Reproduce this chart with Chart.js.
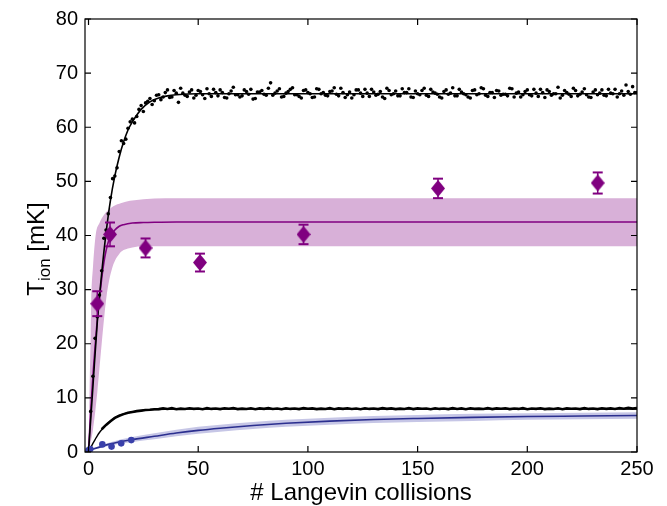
<!DOCTYPE html>
<html>
<head>
<meta charset="utf-8">
<script src="https://cdn.jsdelivr.net/npm/chart.js@4.4.1/dist/chart.umd.min.js"></script>
<style>
  html,body{margin:0;padding:0;background:#fff;}
</style>
</head>
<body>
<canvas id="c" width="667" height="506"></canvas>
<script>
// ---- axes ----
const xTicks = [0, 50, 100, 150, 200, 250];
const yTicks = [0, 10, 20, 30, 40, 50, 60, 70, 80];
const xTitle = '# Langevin collisions';

// ---- upper black: simulated ion temperature (dots) ----
// odd collisions, from x=1
const hotDotsA = [
  7.5, 21, 29, 39.5, 44, 50.5, 52.5, 57.5, 57.8, 61, 60.8, 63.3, 62.9, 64.8, 64.2, 65.9, 65.1, 66.4, 65.5, 66.8,
  64.6, 66.3, 65.7, 66.9, 65.9, 66.6, 65.3, 66.2, 67.0, 65.8, 66.4, 65.4, 66.7, 66.0, 65.6, 66.9, 66.1, 65.2, 66.5, 66.8,
  65.9, 68.2, 66.3, 67.1, 65.7, 66.6, 67.3, 66.0, 65.4, 66.9, 66.2, 65.6, 67.0, 66.4, 65.8, 66.7, 66.1, 67.2, 65.5, 66.5,
  66.0, 66.9, 65.7, 66.3, 67.0, 65.9, 66.6, 65.3, 66.8, 66.2, 65.8, 67.1, 66.4, 65.6, 66.7, 66.0, 67.2, 65.7, 66.5, 66.1,
  65.4, 66.9, 66.3, 65.8, 67.0, 66.2, 65.6, 66.8, 66.0, 67.3, 65.9, 66.4, 65.5, 66.7, 66.1, 65.8, 67.1, 66.3, 65.6, 66.6,
  66.0, 67.0, 65.7, 66.4, 66.9, 65.9, 66.2, 65.4, 66.8, 66.1, 67.2, 65.8, 66.5, 66.0, 65.5, 66.9, 66.3, 65.9, 67.0, 66.2,
  65.6, 66.7, 67.8, 66.1, 66.4
];
// even collisions, from x=2
const hotDotsB = [
  14, 25, 33.5, 41, 47, 51, 55.5, 57, 59.8, 61.5, 62, 64, 64.5, 65.3, 64.9, 66, 65.6,
  66.9, 65.6, 66.3, 67.2, 65.9, 66.5, 65.4, 66.8, 66.0, 67.1, 65.7, 66.4, 66.9, 65.5, 66.2, 67.4, 66.0, 65.8, 66.6, 67.0,
  65.3, 66.5, 66.1, 67.2, 65.9, 66.7, 65.6, 66.3, 67.0, 66.0, 65.7, 66.8, 66.4, 65.5, 67.1, 66.2, 65.9, 66.6, 67.3, 65.8,
  66.4, 66.0, 65.4, 66.9, 66.3, 67.0, 65.7, 66.5, 66.1, 65.6, 67.2, 66.0, 66.7, 65.8, 66.4, 67.1, 65.5, 66.2, 66.8, 65.9,
  67.0, 66.3, 65.6, 66.6, 66.1, 67.3, 65.8, 66.5, 66.0, 65.4, 66.9, 66.2, 67.1, 65.7, 66.4, 66.8, 65.9, 66.1, 67.2, 65.6,
  66.5, 66.0, 66.9, 65.8, 66.3, 67.0, 65.5, 66.6, 66.2, 67.4, 65.9, 66.4, 65.7, 66.8, 66.1, 67.1, 65.6, 66.5, 66.0, 66.9,
  65.8, 66.3, 67.0, 66.2, 65.9, 66.6, 67.5, 66.4
];
const hotFitX = [0, 2, 4, 6, 8, 10, 12, 14, 16, 18, 20, 24, 28, 32, 36, 40, 50, 250];
const hotFitY = [0, 12, 24, 33, 40.5, 46.5, 51, 54.5, 57.3, 59.5, 61, 63.3, 64.7, 65.4, 65.8, 66.0, 66.2, 66.2];

// ---- lower black: simulated (noisy trace every 2 collisions from x=6) ----
const coldNoise = [
  4.2, 5.0, 5.7, 6.3, 6.7, 7.0, 7.25, 7.4, 7.55, 7.65, 7.75, 7.8, 7.9,
  7.92, 8.06, 7.95, 8.1, 7.9, 8.02, 7.94, 8.08, 7.97, 8.04, 7.9, 8.1, 7.96, 8.03, 7.92, 8.07, 7.98, 8.12, 7.93, 8.02,
  7.95, 8.09, 7.9, 8.05, 7.97, 8.1, 7.94, 8.03, 7.91, 8.08, 7.96, 8.04, 7.92, 8.11, 7.98, 8.06, 7.93, 8.02, 7.95, 8.1,
  7.9, 8.05, 7.97, 8.08, 7.94, 8.03, 7.91, 8.09, 7.96, 8.04, 7.92, 8.1, 7.97, 8.05, 7.93, 8.02, 7.95, 8.12, 7.92, 8.06,
  7.98, 8.03, 7.9, 8.08, 7.96, 8.04, 7.93, 8.1, 7.95, 8.05, 7.91, 8.07, 7.97, 8.02, 7.94, 8.11, 7.92, 8.05, 7.98, 8.08,
  7.93, 8.03, 7.96, 8.1, 7.91, 8.04, 7.97, 8.07, 7.92, 8.02, 7.95, 8.09, 7.9, 8.06, 7.98, 8.03, 7.93, 8.1, 7.96, 8.04,
  7.92, 8.08, 7.97, 8.05, 7.94, 8.12, 8.0, 8.15, 8.02, 8.1
];
const coldFitX = [0, 1, 2, 3, 4, 5, 6, 8, 10, 12, 15, 20, 25, 30, 40, 250];
const coldFitY = [0, 0.8, 1.6, 2.3, 3.0, 3.6, 4.1, 5.0, 5.7, 6.3, 6.9, 7.4, 7.7, 7.85, 7.95, 7.95];

// ---- purple: measured ion temperature with error bars, fit and band ----
const ionX = [4.0, 9.8, 26, 50.8, 98, 159.3, 232.1];
const ionY = [27.4, 40.2, 37.7, 35.0, 40.2, 48.7, 49.7];
const ionErr = [2.3, 2.2, 1.75, 1.65, 1.8, 1.8, 1.95];
const ionFitX = [0, 1, 2, 3, 4, 5, 6, 7, 8, 9, 10, 12, 14, 16, 20, 25, 30, 40, 250];
const ionFitY = [0, 7.5, 14, 19.5, 24.5, 28.5, 32, 35, 37.2, 38.8, 39.8, 41.0, 41.7, 42.0, 42.3, 42.4, 42.45, 42.5, 42.5];
const ionHighX = [0, 0.5, 1, 1.25, 2, 3.3, 5, 6.7, 9, 11.3, 15, 18.9, 25, 35, 250];
const ionHighY = [0, 12, 22, 28, 34, 40.2, 42.3, 43.6, 44.7, 45.4, 46.0, 46.4, 46.7, 46.9, 46.9];
const ionLowX = [0, 2, 4, 6, 7.3, 8.3, 9.3, 10.8, 12, 14, 16, 20, 25, 30, 250];
const ionLowY = [0, 4, 11, 20, 25.5, 29, 31.5, 34, 35.3, 36.6, 37.3, 37.8, 38.0, 38.0, 38.0];

// ---- blue: measured (dots), fit and band ----
const blueX = [0, 0.8, 6.3, 10.5, 14.9, 19.5];
const blueY = [0.3, 0.55, 1.4, 1.0, 1.6, 2.2];
const blueFitX = [0, 5, 10, 20, 30, 40, 50, 60, 75, 90, 110, 130, 150, 175, 200, 225, 250];
const blueFitY = [0.3, 0.9, 1.5, 2.3, 2.9, 3.5, 4.0, 4.4, 4.9, 5.3, 5.7, 6.0, 6.2, 6.4, 6.55, 6.65, 6.75];
const blueHighY = [0.35, 1.1, 1.8, 2.75, 3.45, 4.1, 4.65, 5.05, 5.55, 5.95, 6.35, 6.65, 6.85, 7.05, 7.15, 7.25, 7.35];
const blueLowY = [0.25, 0.7, 1.2, 1.85, 2.35, 2.9, 3.35, 3.75, 4.25, 4.65, 5.05, 5.35, 5.55, 5.75, 5.95, 6.05, 6.15];

const PURPLE = '#800080';
const pts = (xs, ys) => xs.map((x, i) => ({x, y: ys[i]}));
const stepPts = (start, step, ys) => ys.map((y, i) => ({x: start + i*step, y}));

// error bars: low, high, gap
const errPts = [];
ionX.forEach((x, i) => { errPts.push({x, y: ionY[i]-ionErr[i]}, {x, y: ionY[i]+ionErr[i]}, {x, y: null}); });

// elongated diamond marker
const diamond = document.createElement('canvas');
diamond.width = 14; diamond.height = 17;
(function(){
  const g = diamond.getContext('2d');
  g.fillStyle = PURPLE;
  g.beginPath(); g.moveTo(7,0); g.lineTo(14,8.5); g.lineTo(7,17); g.lineTo(0,8.5); g.closePath(); g.fill();
})();

const frame = {
  id: 'frame',
  afterDraw(chart){
    const {ctx, chartArea: a, scales: {x, y}} = chart;
    ctx.save();
    ctx.strokeStyle = '#000'; ctx.lineWidth = 1.2;
    ctx.strokeRect(a.left, a.top, a.right - a.left, a.bottom - a.top);
    ctx.beginPath();
    xTicks.forEach(v => { const p = x.getPixelForValue(v);
      ctx.moveTo(p, a.bottom); ctx.lineTo(p, a.bottom - 6); ctx.moveTo(p, a.top); ctx.lineTo(p, a.top + 6); });
    yTicks.forEach(v => { const p = y.getPixelForValue(v);
      ctx.moveTo(a.left, p); ctx.lineTo(a.left + 6, p); ctx.moveTo(a.right, p); ctx.lineTo(a.right - 6, p); });
    ctx.stroke();

    ctx.fillStyle = '#000';
    const big = '24px "Liberation Sans", Arial, sans-serif', small = '17px "Liberation Sans", Arial, sans-serif';
    ctx.font = big; ctx.textAlign = 'center'; ctx.textBaseline = 'alphabetic';
    ctx.fillText(xTitle, (a.left + a.right)/2, 500);

    // y title: T_ion [mK]
    ctx.textAlign = 'left';
    ctx.font = big; const wT = ctx.measureText('T').width, wU = ctx.measureText(' [mK]').width;
    ctx.font = small; const wS = ctx.measureText('ion').width;
    const w = wT + wS + wU;
    ctx.translate(44, 249); ctx.rotate(-Math.PI/2);
    let cx = -w/2;
    ctx.font = big; ctx.fillText('T', cx, 0); cx += wT;
    ctx.font = small; ctx.fillText('ion', cx, 6); cx += wS;
    ctx.font = big; ctx.fillText(' [mK]', cx, 0);
    ctx.restore();
  }
};

Chart.defaults.font.family = '"Liberation Sans", Arial, sans-serif';
Chart.defaults.color = '#000';

const smooth = {pointRadius: 0, cubicInterpolationMode: 'monotone'};

new Chart(document.getElementById('c'), {
  type: 'line',
  data: {
    datasets: [
      {data: pts(ionLowX, ionLowY), borderWidth: 0, fill: false, order: 20, ...smooth},
      {data: pts(ionHighX, ionHighY), borderWidth: 0, fill: '-1', backgroundColor: '#d8b0d8', order: 19, ...smooth},
      {data: pts(blueFitX, blueLowY), borderWidth: 0, fill: false, order: 18, ...smooth},
      {data: pts(blueFitX, blueHighY), borderWidth: 0, fill: '-1', backgroundColor: '#c6c6e6', order: 17, ...smooth},
      {data: pts(ionFitX, ionFitY), borderColor: PURPLE, borderWidth: 1.6, order: 8, ...smooth},
      {data: pts(blueFitX, blueFitY), borderColor: '#2b2f8f', borderWidth: 1.6, order: 8, ...smooth},
      {data: pts(coldFitX, coldFitY), borderColor: '#000', borderWidth: 1.4, order: 7, ...smooth},
      {data: stepPts(6, 2, coldNoise), borderColor: '#000', borderWidth: 2.6, pointRadius: 0, order: 6},
      {data: pts(hotFitX, hotFitY), borderColor: '#000', borderWidth: 1.6, order: 5, ...smooth},
      {data: stepPts(1, 2, hotDotsA), showLine: false, pointRadius: 1.8,
       pointBackgroundColor: '#000', pointBorderWidth: 0, order: 4},
      {data: stepPts(2, 2, hotDotsB), showLine: false, pointRadius: 1.8,
       pointBackgroundColor: '#000', pointBorderWidth: 0, order: 4},
      {data: pts(blueX, blueY), showLine: false, pointRadius: 3.3,
       pointBackgroundColor: '#3a40aa', pointBorderWidth: 0, order: 3},
      {data: errPts, borderColor: PURPLE, borderWidth: 1.5, spanGaps: false,
       pointStyle: 'line', pointRadius: 5, pointBorderWidth: 2, pointBorderColor: PURPLE, order: 2},
      {data: pts(ionX, ionY), showLine: false, pointStyle: diamond, order: 1}
    ]
  },
  options: {
    responsive: false,
    animation: false,
    layout: {padding: {top: 17, right: 30, left: 0, bottom: 0}},
    plugins: {legend: {display: false}, tooltip: {enabled: false}},
    scales: {
      x: {
        type: 'linear', min: -1.6, max: 250,
        afterBuildTicks: s => { s.ticks = xTicks.map(v => ({value: v})); },
        afterFit: s => { s.height = 54; },
        grid: {display: false, drawTicks: false},
        border: {display: false},
        ticks: {font: {size: 20}, padding: 5, maxRotation: 0}
      },
      y: {
        min: 0, max: 80,
        afterBuildTicks: s => { s.ticks = yTicks.map(v => ({value: v})); },
        afterFit: s => { s.width = 85; },
        grid: {display: false, drawTicks: false},
        border: {display: false},
        ticks: {font: {size: 20}, padding: 7}
      }
    }
  },
  plugins: [frame]
});
</script>
</body>
</html>
